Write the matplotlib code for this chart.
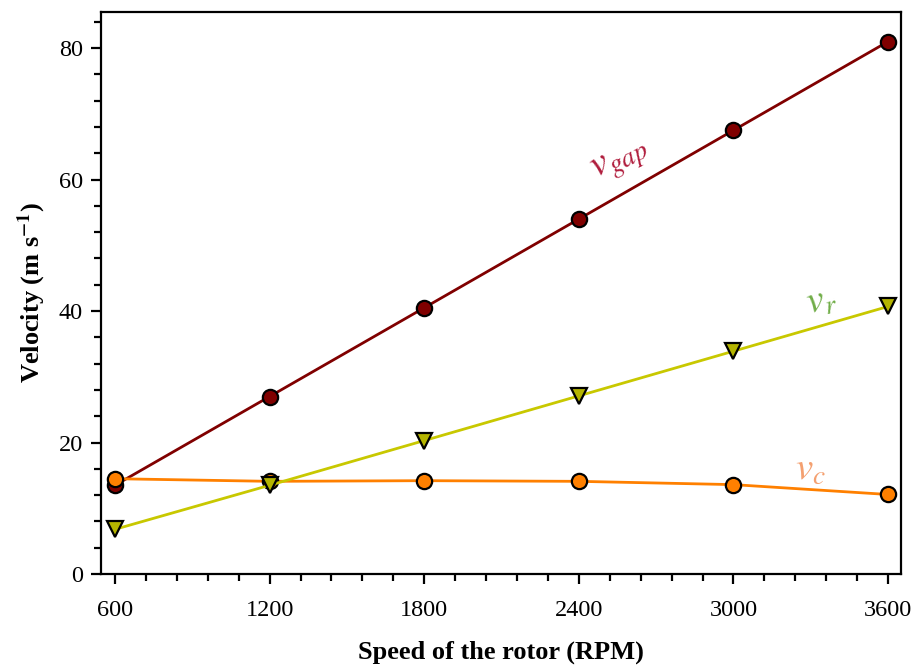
import numpy as np
import matplotlib.pyplot as plt
from matplotlib.ticker import MultipleLocator

# rotor speed (RPM) and velocities (m/s)
rpm = [600, 1200, 1800, 2400, 3000, 3600]
v_gap = [13.5, 27.0, 40.5, 54.0, 67.5, 81.0]
v_r = [6.8, 13.5, 20.3, 27.1, 33.9, 40.7]
v_c = [14.5, 14.1, 14.2, 14.1, 13.6, 12.1]

plt.rcParams['font.family'] = ['Liberation Serif', 'DejaVu Serif']
plt.rcParams['mathtext.fontset'] = 'stix'

fig = plt.figure(figsize=(9.11, 6.65), dpi=100)
ax = fig.add_axes([0.1109, 0.1368, 0.8781, 0.8452])

ax.plot(rpm, v_gap, color='#800000', lw=2, marker='o', ms=11,
        mfc='#800000', mec='black', mew=1.6, zorder=3)
ax.plot(rpm, v_c, color='#ff8000', lw=2, marker='o', ms=11,
        mfc='#ff8000', mec='black', mew=1.6, zorder=4)
ax.plot(rpm, v_r, color='#c8c800', lw=2, marker='v', ms=11,
        mfc='#b4b400', mec='black', mew=1.6, zorder=5)

ax.text(2560, 63, r'$v_{gap}$', color='#b01c3c', fontsize=28, rotation=27,
        ha='center', va='center')
ax.text(3340, 41.5, r'$v_{r}$', color='#70ad47', fontsize=28, rotation=12,
        ha='center', va='center')
ax.text(3300, 15.8, r'$v_{c}$', color='#f4a070', fontsize=28,
        ha='center', va='center')

ax.set_xlim(546, 3650)
ax.set_ylim(0, 85.5)
ax.xaxis.set_major_locator(MultipleLocator(600))
ax.xaxis.set_minor_locator(MultipleLocator(120))
ax.yaxis.set_major_locator(MultipleLocator(20))
ax.yaxis.set_minor_locator(MultipleLocator(4))
ax.tick_params(which='both', direction='out', width=1.6, labelsize=17.5,
               top=False, right=False)
ax.tick_params(which='major', length=7, pad=6)
ax.tick_params(which='minor', length=5)
ax.tick_params(axis='x', pad=12)
for s in ax.spines.values():
    s.set_linewidth(1.6)

ax.set_xlabel('Speed of the rotor (RPM)', fontsize=19, fontweight='bold',
              labelpad=14)
ax.set_ylabel(r'Velocity (m s$^{\mathbf{-1}}$)', fontsize=19,
              fontweight='bold', labelpad=8)

fig.savefig('out.png', dpi=100)
